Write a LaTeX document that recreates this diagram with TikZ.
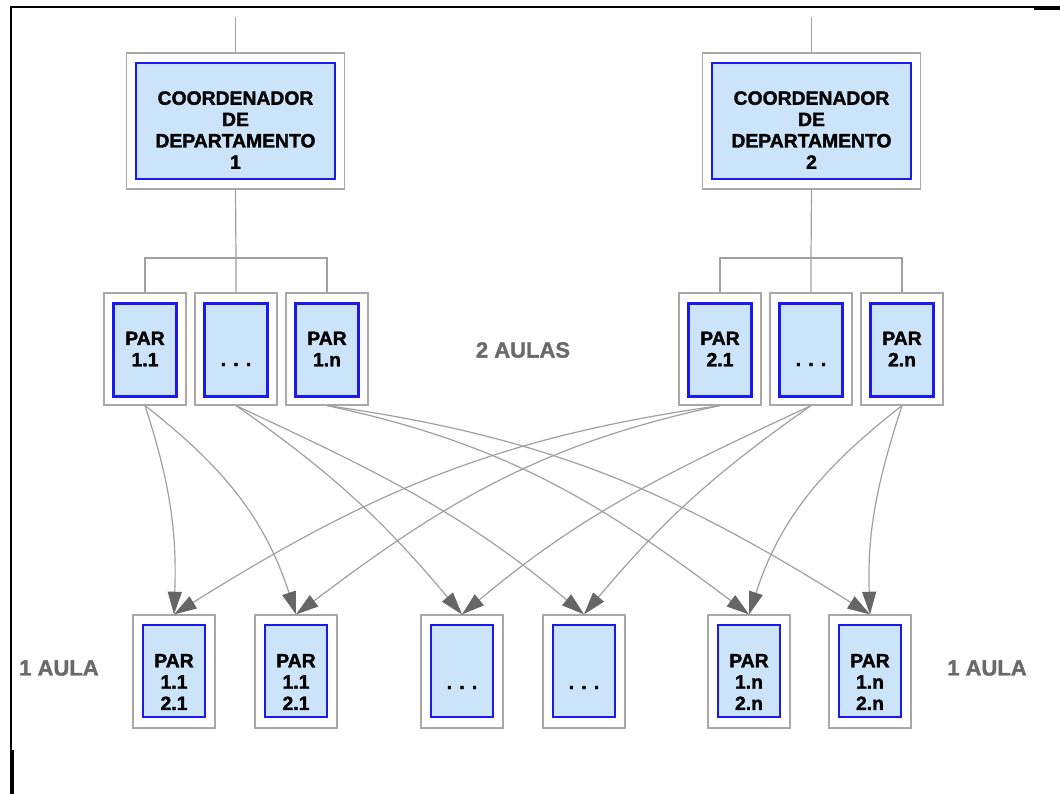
\documentclass[tikz,border=0pt]{standalone}
\usepackage{fontspec}
\setmainfont{Liberation Sans}[BoldFeatures={FakeBold=1.6}]
\usetikzlibrary{arrows.meta}
\definecolor{boxgray}{HTML}{A8A8A8}
\definecolor{linegray}{HTML}{A0A0A0}
\definecolor{arrowgray}{HTML}{666666}
\definecolor{innerblue}{HTML}{1A1AF0}
\definecolor{innerfill}{HTML}{CCE4FA}
\definecolor{labelgray}{HTML}{6A6A6A}
\tikzset{
  outerbox/.style={draw=boxgray, fill=white, line width=0.9pt, inner sep=0pt},
  innerbox/.style={draw=innerblue, fill=innerfill, line width=1.8pt, inner sep=0pt},
  coordsize/.style={minimum width=164pt, minimum height=102pt},
  coordinner/.style={minimum width=149pt, minimum height=87pt},
  midsize/.style={minimum width=61.5pt, minimum height=84pt},
  midinner/.style={minimum width=47pt, minimum height=69.5pt},
  botsize/.style={minimum width=61.5pt, minimum height=84.75pt},
  botinner/.style={minimum width=46.5pt, minimum height=69pt},
  boxtext/.style={font=\fontsize{14.5}{16}\selectfont\bfseries, align=center, inner sep=0pt, text=black},
  graylabel/.style={font=\fontsize{16.5}{19}\selectfont\bfseries, text=labelgray, inner sep=0pt},
  tree/.style={draw=linegray, line width=0.9pt},
  arr/.style={draw=linegray, line width=0.9pt, -{Triangle[length=17pt,width=10.5pt,color=arrowgray]}}
}
\begin{document}
\begin{tikzpicture}[x=0.75pt,y=-0.75pt]
\useasboundingbox (0,0) rectangle (1060,794);
\fill[white] (0,0) rectangle (1060,794);

% frame
\draw[black, line width=1.1pt] (11,794) -- (11,7) -- (1060,7);
\fill[black] (1034,6.3) rectangle (1060,9.6);
\fill[black] (10.3,750) rectangle (13.6,794);

% coordinators
\node[outerbox, coordsize] (c1o) at (235.5,121) {};
\node[innerbox, coordinner] (c1i) at (235.5,121) {};
\node[boxtext] (c1t) at (235.5,130) {COORDENADOR\\DE\\DEPARTAMENTO\\1};
\node[outerbox, coordsize] (c2o) at (811.5,121) {};
\node[innerbox, coordinner] (c2i) at (811.5,121) {};
\node[boxtext] (c2t) at (811.5,130) {COORDENADOR\\DE\\DEPARTAMENTO\\2};

% middle row
\foreach \n/\x in {p11/145, p1d/236, p1n/327, p21/720, p2d/811, p2n/902}{
  \node[outerbox, midsize] (\n o) at (\x,349) {};
  \node[innerbox, midinner] (\n i) at (\x,350) {};
}
\node[boxtext] (p11t) at (145,349) {PAR\\1.1};
\node[boxtext, anchor=base] (p1dt) at (236,366) {. . .};
\node[boxtext] (p1nt) at (327,349) {PAR\\1.n};
\node[boxtext] (p21t) at (720,349) {PAR\\2.1};
\node[boxtext, anchor=base] (p2dt) at (811,366) {. . .};
\node[boxtext] (p2nt) at (902,349) {PAR\\2.n};

% bottom row
\foreach \n/\x in {b1/174, b2/296, b3/462, b4/584, b5/749, b6/870}{
  \node[outerbox, botsize] (\n o) at (\x,671.5) {};
  \node[innerbox, botinner] (\n i) at (\x,671) {};
}
\node[boxtext] (b1t) at (174,682) {PAR\\1.1\\2.1};
\node[boxtext] (b2t) at (296,682) {PAR\\1.1\\2.1};
\node[boxtext, anchor=base] (b3t) at (462,689) {. . .};
\node[boxtext, anchor=base] (b4t) at (584,689) {. . .};
\node[boxtext] (b5t) at (749,682) {PAR\\1.n\\2.n};
\node[boxtext] (b6t) at (870,682) {PAR\\1.n\\2.n};

% labels
\node[graylabel] (l2) at (523,350) {2 AULAS};
\node[graylabel] (l1a) at (59,668) {1 AULA};
\node[graylabel] (l1b) at (987,668) {1 AULA};

% tree lines
\coordinate (t1) at (235.5,17);
\coordinate (t2) at (811.5,17);
\coordinate (j1) at (236,258);
\coordinate (j2) at (811,258);
\draw[tree] (t1) -- (c1o.north);
\draw[tree] (t2) -- (c2o.north);
\draw[tree] (c1o.south) -- (j1) -- (p1do.north);
\draw[tree] (c2o.south) -- (j2) -- (p2do.north);
\draw[tree] (p11o.north) |- (j1) -| (p1no.north);
\draw[tree] (p21o.north) |- (j2) -| (p2no.north);

% arrows, group 1
\draw[arr] (p11o.south) to[out=-72,in=88] (b1o.north);
\draw[arr] (p11o.south) to[out=-38,in=108] (b2o.north);
\draw[arr] (p1do.south) to[out=-35,in=130] (b3o.north);
\draw[arr] (p1do.south) to[out=-25,in=140] (b4o.north);
\draw[arr] (p1no.south) to[out=-12,in=143] (b5o.north);
\draw[arr] (p1no.south) to[out=-8,in=148] (b6o.north);
% arrows, group 2
\draw[arr] (p21o.south) to[out=-172,in=32] (b1o.north);
\draw[arr] (p21o.south) to[out=-168,in=37] (b2o.north);
\draw[arr] (p2do.south) to[out=-155,in=40] (b3o.north);
\draw[arr] (p2do.south) to[out=-145,in=50] (b4o.north);
\draw[arr] (p2no.south) to[out=-142,in=72] (b5o.north);
\draw[arr] (p2no.south) to[out=-108,in=92] (b6o.north);
\end{tikzpicture}
\end{document}
